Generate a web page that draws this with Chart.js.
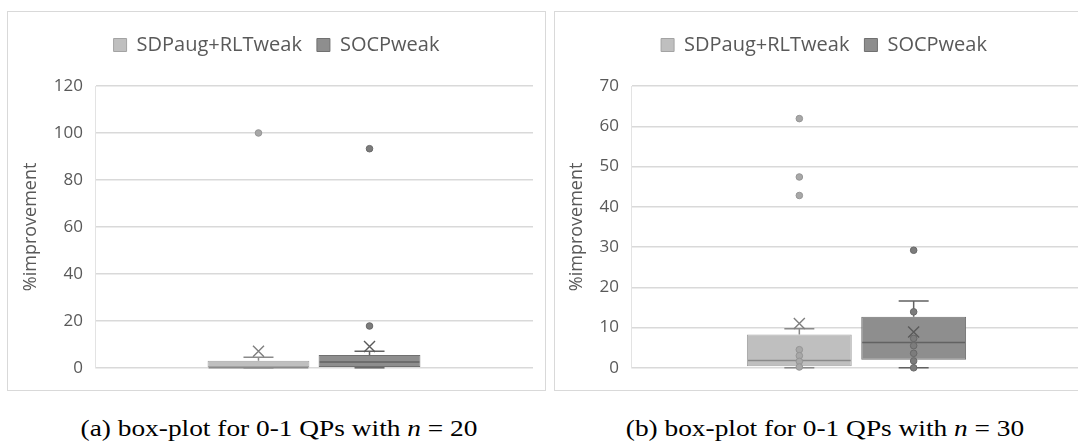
<!DOCTYPE html>
<html>
<head>
<meta charset="utf-8">
<script src="https://cdn.jsdelivr.net/npm/chart.js@4/dist/chart.umd.min.js"></script>
<style>
  html, body { margin: 0; padding: 0; background: #fff; overflow: hidden; width: 1078px; height: 444px; }
  .panel { position: absolute; border: 1px solid #d9d9d9; box-sizing: border-box; background: #fff; }
  #pa { left: 7px; top: 11px; width: 539px; height: 380px; }
  #pb { left: 554px; top: 11px; width: 540px; height: 380px; }
  canvas { display: block; }
  .cap { position: absolute; top: 415px; font-family: "Liberation Serif", "Times New Roman", serif;
         font-size: 24px; color: #000; white-space: nowrap; transform: translateX(-50%) scaleX(1.14); }
  .cap i { font-style: italic; }
</style>
</head>
<body>
<div class="panel" id="pa"><canvas id="ca" width="537" height="378"></canvas></div>
<div class="panel" id="pb"><canvas id="cb" width="538" height="378"></canvas></div>
<div class="cap" style="left:279px">(a) box-plot for 0-1 QPs with <i>n</i> = 20</div>
<div class="cap" style="left:825px">(b) box-plot for 0-1 QPs with <i>n</i> = 30</div>

<script>
// Series names and the single (unnamed) category
const categories = [''];
const seriesNames = ['SDPaug+RLTweak', 'SOCPweak'];

// Panel (a): n = 20, one entry per series
const a_q1 = [0, 0];
const a_median = [0, 2.5];
const a_q3 = [3.0, 5.5];
const a_whiskerLow = [0, 0];
const a_whiskerHigh = [4.5, 7.1];
const a_mean = [7.0, 9.1];
const a_inner = [[], []];
const a_outliers = [[100], [93.3, 17.8]];
const a_ticks = [0, 20, 40, 60, 80, 100, 120];

// Panel (b): n = 30
const b_q1 = [0.4, 2.0];
const b_median = [1.8, 6.3];
const b_q3 = [8.3, 12.7];
const b_whiskerLow = [0, 0];
const b_whiskerHigh = [9.7, 16.6];
const b_mean = [11.0, 8.9];
const b_inner = [[4.5, 3.0, 1.6, 0.2], [13.9, 7.3, 5.5, 3.6, 1.7, 0]];
const b_outliers = [[61.9, 47.4, 42.8], [29.2]];
const b_ticks = [0, 10, 20, 30, 40, 50, 60, 70];

const styles = [
  { fill: '#bfbfbf', border: '#a3a3a3', whisker: '#8a8a8a', pointFill: '#a8a8a8', pointStroke: '#959595', mean: '#7f7f7f' },
  { fill: '#8e8e8e', border: '#707070', whisker: '#626262', pointFill: '#7c7c7c', pointStroke: '#686868', mean: '#5a5a5a' }
];

// Whiskers, medians, means and points drawn over the boxes using the chart's scales
const boxExtras = {
  id: 'boxExtras',
  afterDatasetsDraw(chart, args, opts) {
    const ctx = chart.ctx;
    const y = chart.scales.y;
    const s = opts.stats;
    chart.data.datasets.forEach((ds, i) => {
      const bar = chart.getDatasetMeta(i).data[0];
      if (!bar) return;
      const x = bar.x, half = bar.width / 2, st = styles[i];
      ctx.save();
      ctx.lineWidth = 1.5;
      ctx.strokeStyle = st.whisker;
      // median
      ctx.beginPath();
      ctx.moveTo(x - half + 1, y.getPixelForValue(s.median[i]));
      ctx.lineTo(x + half - 1, y.getPixelForValue(s.median[i]));
      ctx.stroke();
      // whiskers with caps
      const capHalf = 15;
      [[s.q3[i], s.high[i]], [s.q1[i], s.low[i]]].forEach(([from, to]) => {
        const yf = y.getPixelForValue(from), yt = y.getPixelForValue(to);
        ctx.beginPath();
        ctx.moveTo(x, yf); ctx.lineTo(x, yt);
        ctx.moveTo(x - capHalf, yt); ctx.lineTo(x + capHalf, yt);
        ctx.stroke();
      });
      // points
      const pts = s.inner[i].concat(s.outliers[i]);
      pts.forEach(v => {
        ctx.beginPath();
        ctx.arc(x, y.getPixelForValue(v), 3.3, 0, Math.PI * 2);
        ctx.fillStyle = st.pointFill;
        ctx.fill();
        ctx.lineWidth = 1;
        ctx.strokeStyle = st.pointStroke;
        ctx.stroke();
      });
      // mean marker
      const ym = y.getPixelForValue(s.mean[i]);
      const r = 5.5;
      ctx.lineWidth = 1.4;
      ctx.strokeStyle = st.mean;
      ctx.beginPath();
      ctx.moveTo(x - r, ym - r); ctx.lineTo(x + r, ym + r);
      ctx.moveTo(x + r, ym - r); ctx.lineTo(x - r, ym + r);
      ctx.stroke();
      ctx.restore();
    });
  }
};

// Extra room under the legend
const legendGap = {
  id: 'legendGap',
  beforeInit(chart, args, opts) {
    const fitFn = chart.legend.fit;
    chart.legend.fit = function () {
      fitFn.bind(chart.legend)();
      this.height += opts.extra;
    };
  }
};

function makeChart(canvasId, stats, ticks, axisWidth, padLeft, padRight) {
  const datasets = seriesNames.map((name, i) => ({
    label: name,
    data: categories.map(() => [stats.q1[i], stats.q3[i]]),
    backgroundColor: styles[i].fill,
    borderColor: styles[i].border,
    borderWidth: 1,
    borderSkipped: false,
    barPercentage: 0.917,
    categoryPercentage: 0.507
  }));
  const yMax = ticks[ticks.length - 1];
  const step = ticks[1] - ticks[0];
  return new Chart(document.getElementById(canvasId), {
    type: 'bar',
    data: { labels: categories, datasets },
    plugins: [legendGap, boxExtras],
    options: {
      responsive: false,
      animation: false,
      devicePixelRatio: 1,
      layout: { padding: { top: 8, left: padLeft, right: padRight, bottom: 21 } },
      plugins: {
        legend: {
          position: 'top',
          labels: {
            boxWidth: 13, boxHeight: 13, padding: 15,
            color: '#595959',
            font: { family: '"Open Sans", sans-serif', size: 20 }
          }
        },
        legendGap: { extra: 21 },
        tooltip: { enabled: false },
        boxExtras: { stats }
      },
      scales: {
        x: { display: false },
        y: {
          min: 0, max: yMax,
          afterFit(scale) { scale.width = axisWidth; },
          afterBuildTicks(scale) { scale.ticks = ticks.map(v => ({ value: v })); },
          ticks: {
            stepSize: step, padding: 12, color: '#595959',
            font: { family: '"Open Sans", sans-serif', size: 17 }
          },
          grid: { color: '#d9d9d9', lineWidth: 1.5, drawTicks: false },
          border: { display: true, color: '#e3e3e3', width: 1 },
          title: {
            display: true, text: '%improvement', color: '#595959',
            padding: { top: 0, bottom: 0 },
            font: { family: '"Open Sans", sans-serif', size: 18 }
          }
        }
      }
    }
  });
}

makeChart('ca', { q1: a_q1, median: a_median, q3: a_q3, low: a_whiskerLow, high: a_whiskerHigh,
                  mean: a_mean, inner: a_inner, outliers: a_outliers }, a_ticks, 75, 12, 12);
makeChart('cb', { q1: b_q1, median: b_median, q3: b_q3, low: b_whiskerLow, high: b_whiskerHigh,
                  mean: b_mean, inner: b_inner, outliers: b_outliers }, b_ticks, 65, 11, 11);
</script>
</body>
</html>
